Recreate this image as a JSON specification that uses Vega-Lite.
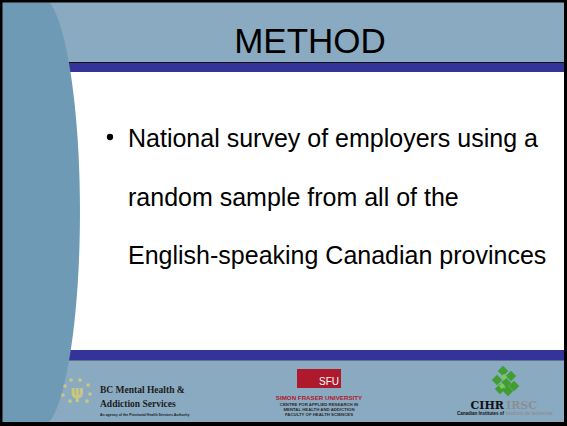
{
  "$schema": "https://vega.github.io/schema/vega-lite/v6.json",
  "width": 567,
  "height": 426,
  "autosize": {"type": "fit", "contains": "padding"},
  "padding": 0,
  "background": "white",
  "config": {"view": {"stroke": null}},
  "encoding": {
    "x": {"field": "x", "type": "quantitative", "scale": {"domain": [0, 567], "nice": false, "zero": false}, "axis": null},
    "y": {"field": "y", "type": "quantitative", "scale": {"domain": [0, 426], "nice": false, "zero": false, "reverse": true}, "axis": null}
  },
  "layer": [
    {
      "data": {"values": [
        {"part": "header", "x": 0, "x2": 567, "y": 0, "y2": 62},
        {"part": "rule", "x": 0, "x2": 567, "y": 62, "y2": 63},
        {"part": "band", "x": 0, "x2": 567, "y": 63, "y2": 72},
        {"part": "body", "x": 0, "x2": 567, "y": 72, "y2": 350},
        {"part": "band", "x": 0, "x2": 567, "y": 350, "y2": 360},
        {"part": "footrule", "x": 0, "x2": 567, "y": 360, "y2": 361},
        {"part": "header", "x": 0, "x2": 567, "y": 361, "y2": 426}
      ]},
      "mark": {"type": "rect", "strokeWidth": 0},
      "encoding": {
        "x2": {"field": "x2"},
        "y2": {"field": "y2"},
        "color": {"field": "part", "type": "nominal", "legend": null,
          "scale": {"domain": ["header", "rule", "band", "body", "footrule"],
                    "range": ["#8aaac1", "#111111", "#333399", "#ffffff", "#5f7384"]}}
      }
    },
    {
      "data": {"values": [{"x": 40, "y": 212}]},
      "mark": {"type": "point", "shape": "M-0.185,-1 L0,-1 C0.1022,-1 0.185,-0.5523 0.185,0 C0.185,0.5523 0.1022,1 0,1 L-0.185,1 Z",
               "filled": true, "size": 186624, "color": "#6f9ab5", "opacity": 1, "strokeWidth": 0, "clip": true}
    },
    {
      "data": {"values": [{"x": 310, "y": 53, "t": "METHOD"}]},
      "mark": {"type": "text", "font": "Liberation Sans", "fontSize": 35, "align": "center", "baseline": "alphabetic", "color": "#000000"},
      "encoding": {"text": {"field": "t"}}
    },
    {
      "data": {"values": [{"x": 110, "y": 137}]},
      "mark": {"type": "point", "shape": "circle", "filled": true, "size": 40, "color": "#000000", "opacity": 1}
    },
    {
      "data": {"values": [
        {"x": 128, "y": 147, "t": "National survey of employers using a"},
        {"x": 128, "y": 205.5, "t": "random sample from all of the"},
        {"x": 128, "y": 264, "t": "English-speaking Canadian provinces"}
      ]},
      "mark": {"type": "text", "font": "Liberation Sans", "fontSize": 25, "align": "left", "baseline": "alphabetic", "color": "#000000"},
      "encoding": {"text": {"field": "t"}}
    },
    {
      "data": {"values": [
        {"x": 80, "y": 380}, {"x": 88, "y": 385}, {"x": 90, "y": 394}, {"x": 87, "y": 401},
        {"x": 71, "y": 380}, {"x": 65, "y": 386}, {"x": 63, "y": 395}, {"x": 70, "y": 401}
      ]},
      "mark": {"type": "point", "shape": "circle", "filled": true, "size": 14, "color": "#c9c77c", "opacity": 1}
    },
    {
      "data": {"values": [{"x": 77, "y": 398, "t": "ψ"}]},
      "mark": {"type": "text", "font": "DejaVu Sans", "fontSize": 17, "fontWeight": "bold", "align": "center", "baseline": "alphabetic", "color": "#c9c77c"},
      "encoding": {"text": {"field": "t"}}
    },
    {
      "data": {"values": [
        {"x": 100, "y": 393, "t": "BC Mental Health &"},
        {"x": 100, "y": 407, "t": "Addiction Services"}
      ]},
      "mark": {"type": "text", "font": "Liberation Serif", "fontSize": 9.5, "fontWeight": "bold", "align": "left", "baseline": "alphabetic", "color": "#1c1c1c"},
      "encoding": {"text": {"field": "t"}}
    },
    {
      "data": {"values": [{"x": 100, "y": 416, "t": "An agency of the Provincial Health Services Authority"}]},
      "mark": {"type": "text", "font": "Liberation Sans", "fontSize": 3.5, "fontWeight": "bold", "align": "left", "baseline": "alphabetic", "color": "#1c1c1c"},
      "encoding": {"text": {"field": "t"}}
    },
    {
      "data": {"values": [{"x": 297, "x2": 341, "y": 369, "y2": 388}]},
      "mark": {"type": "rect", "color": "#ae1a2c", "strokeWidth": 0},
      "encoding": {"x2": {"field": "x2"}, "y2": {"field": "y2"}}
    },
    {
      "data": {"values": [{"x": 339, "y": 385, "t": "SFU"}]},
      "mark": {"type": "text", "font": "Liberation Sans", "fontSize": 10, "align": "right", "baseline": "alphabetic", "color": "#ffffff"},
      "encoding": {"text": {"field": "t"}}
    },
    {
      "data": {"values": [{"x": 319, "y": 400, "t": "SIMON FRASER UNIVERSITY"}]},
      "mark": {"type": "text", "font": "Liberation Sans", "fontSize": 6.2, "fontWeight": "bold", "align": "center", "baseline": "alphabetic", "color": "#ae1a2c"},
      "encoding": {"text": {"field": "t"}}
    },
    {
      "data": {"values": [
        {"x": 319, "y": 406, "t": "CENTRE FOR APPLIED RESEARCH IN"},
        {"x": 319, "y": 411, "t": "MENTAL HEALTH AND ADDICTION"},
        {"x": 319, "y": 416, "t": "FACULTY OF HEALTH SCIENCES"}
      ]},
      "mark": {"type": "text", "font": "Liberation Sans", "fontSize": 4.3, "fontWeight": "bold", "align": "center", "baseline": "alphabetic", "color": "#2a2a2a"},
      "encoding": {"text": {"field": "t"}}
    },
    {
      "data": {"values": [
        {"x": 503, "y": 371}, {"x": 511, "y": 376}, {"x": 497, "y": 380}, {"x": 506, "y": 383}, {"x": 514, "y": 386}, {"x": 500, "y": 389}, {"x": 508, "y": 391}
      ]},
      "mark": {"type": "point", "shape": "diamond", "filled": true, "size": 110, "color": "#3f9e2f", "opacity": 1}
    },
    {
      "data": {"values": [
        {"x": 504, "y": 377}, {"x": 502, "y": 386}
      ]},
      "mark": {"type": "point", "shape": "diamond", "filled": true, "size": 40, "color": "#7cc85a", "opacity": 1}
    },
    {
      "data": {"values": [{"x": 504, "y": 409, "t": "CIHR"}]},
      "mark": {"type": "text", "font": "DejaVu Serif", "fontSize": 11, "fontWeight": "bold", "align": "right", "baseline": "alphabetic", "color": "#111111"},
      "encoding": {"text": {"field": "t"}}
    },
    {
      "data": {"values": [{"x": 506, "y": 409, "t": "IRSC"}]},
      "mark": {"type": "text", "font": "DejaVu Serif", "fontSize": 11, "fontWeight": "bold", "align": "left", "baseline": "alphabetic", "color": "#8a8f94"},
      "encoding": {"text": {"field": "t"}}
    },
    {
      "data": {"values": [{"x": 504, "y": 415, "t": "Canadian Institutes of"}]},
      "mark": {"type": "text", "font": "Liberation Sans", "fontSize": 4.5, "fontWeight": "bold", "align": "right", "baseline": "alphabetic", "color": "#111111"},
      "encoding": {"text": {"field": "t"}}
    },
    {
      "data": {"values": [{"x": 506, "y": 415, "t": "Instituts de recherche"}]},
      "mark": {"type": "text", "font": "Liberation Sans", "fontSize": 4.5, "fontWeight": "bold", "align": "left", "baseline": "alphabetic", "color": "#8a8f94"},
      "encoding": {"text": {"field": "t"}}
    },
    {
      "data": {"values": [
        {"x": 0, "x2": 567, "y": 0, "y2": 2.5},
        {"x": 0, "x2": 567, "y": 422, "y2": 426},
        {"x": 0, "x2": 2.5, "y": 0, "y2": 426},
        {"x": 564, "x2": 567, "y": 0, "y2": 426}
      ]},
      "mark": {"type": "rect", "color": "#000000", "strokeWidth": 0},
      "encoding": {"x2": {"field": "x2"}, "y2": {"field": "y2"}}
    }
  ]
}
